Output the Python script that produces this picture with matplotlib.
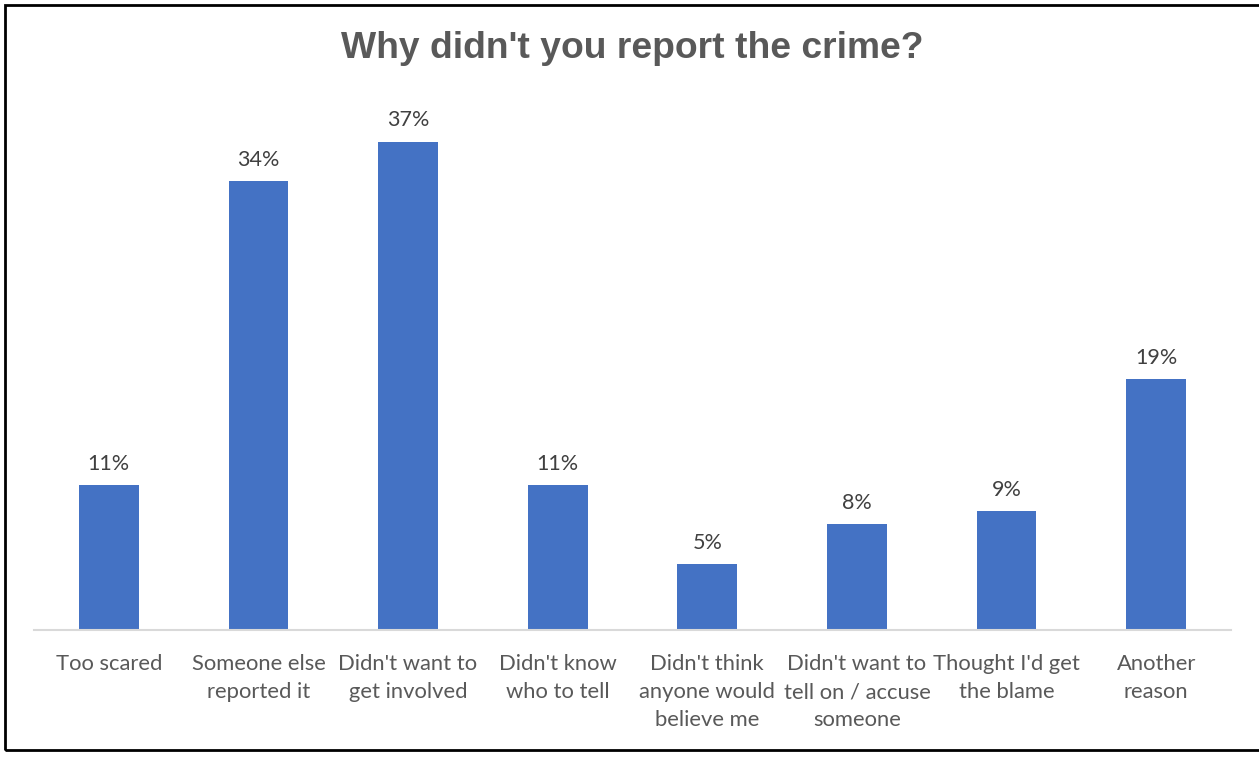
import matplotlib
matplotlib.use("Agg")
import matplotlib.pyplot as plt
from matplotlib.patches import Rectangle

categories = ["Too scared", "Someone else\nreported it", "Didn't want to\nget involved",
              "Didn't know\nwho to tell", "Didn't think\nanyone would\nbelieve me",
              "Didn't want to\ntell on / accuse\nsomeone", "Thought I'd get\nthe blame",
              "Another\nreason"]
values = [11, 34, 37, 11, 5, 8, 9, 19]
value_labels = ["11%", "34%", "37%", "11%", "5%", "8%", "9%", "19%"]
title = "Why didn't you report the crime?"

W, H = 1259, 758
fig = plt.figure(figsize=(W / 100, H / 100), dpi=100)
ax = fig.add_axes([34 / W, 1 - 630 / H, 1197 / W, 528 / H])

x = list(range(len(categories)))
bars = ax.bar(x, values, width=0.40, color="#4472C4", zorder=2)
ax.set_xlim(-0.5, len(categories) - 0.5)
ax.set_ylim(0, 40)

for b, lab in zip(bars, value_labels):
    ax.annotate(lab, (b.get_x() + b.get_width() / 2, b.get_height()),
                xytext=(0, 8), textcoords="offset points", ha="center", va="bottom",
                fontsize=15.5, color="#404040", family="Lato")

ax.set_xticks(x)
ax.set_xticklabels(categories, fontsize=15.8, color="#595959", family="Lato", linespacing=1.5)
ax.tick_params(axis="x", length=0, pad=17.5)
ax.set_yticks([])
for s in ["top", "right", "left"]:
    ax.spines[s].set_visible(False)
ax.spines["bottom"].set_color("#D9D9D9")
ax.spines["bottom"].set_linewidth(1.5)

fig.text(632 / W, 1 - 48 / H, title, ha="center", va="center", fontsize=26.8,
         fontweight="bold", color="#595959", family="Liberation Sans")

fig.add_artist(Rectangle((5 / W, 8 / H), 1.2, 1 - 13 / H, transform=fig.transFigure,
                         fill=False, edgecolor="black", linewidth=2))

fig.savefig("out.png", dpi=100)
